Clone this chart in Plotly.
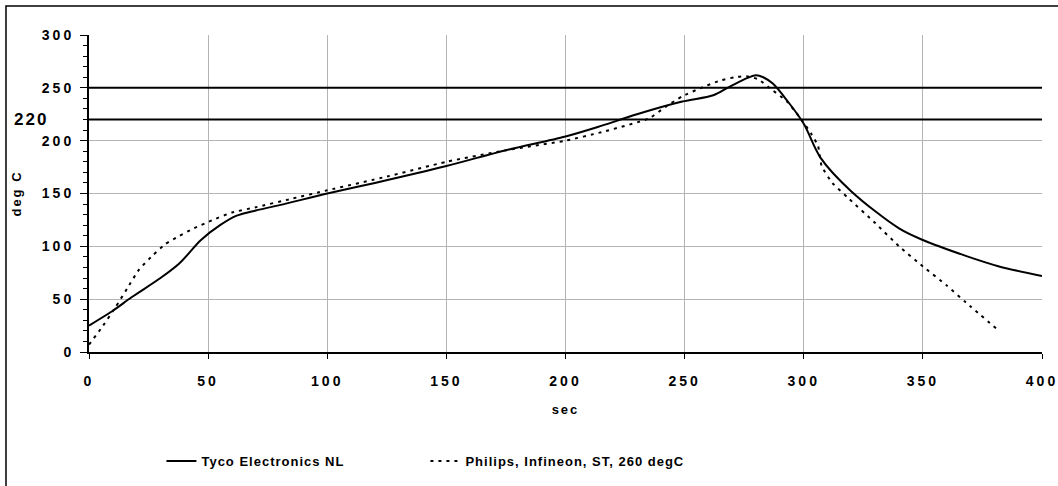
import plotly.graph_objects as go

# ---- data ----
tyco_x = [0, 10, 18, 30, 38, 47, 55, 62, 70, 80, 100, 120, 150, 175, 200, 215, 230, 249, 262, 268, 275, 280, 283, 287, 293, 300, 307, 320, 340, 350, 368, 382, 400]
tyco_y = [25, 39, 52, 70, 84, 106, 120, 129, 134, 139, 150, 160, 176, 191, 204, 214, 225, 237, 243, 250, 258, 262, 260, 254, 238, 216, 184, 152, 117, 106, 91, 81, 72]

phil_x = [0, 5, 11, 16, 21, 27, 32, 38, 44, 52, 60, 70, 85, 100, 125, 150, 175, 200, 215, 235, 242, 249, 257, 265, 271, 276, 281, 285, 293, 298, 303, 306, 307.5, 312, 319, 330, 340, 350, 360, 368, 382]
phil_y = [7, 22, 42, 60, 78, 92, 102, 110, 117, 125, 132, 137, 145, 153, 166, 180, 191, 200, 208, 221, 232, 242, 250, 257, 260, 261, 258, 251, 237, 223, 207, 195, 176, 160, 145, 122, 100, 81, 63, 47, 20]

ref_levels = [250, 220]
x_ticks = [0, 50, 100, 150, 200, 250, 300, 350, 400]
y_ticks = [0, 50, 100, 150, 200, 250, 300]

FONT = "Liberation Sans, Arial, sans-serif"

fig = go.Figure()
fig.add_trace(go.Scatter(x=tyco_x, y=tyco_y, mode="lines", name="Tyco Electronics NL",
                         line=dict(color="black", width=2, shape="spline", smoothing=0.9)))
fig.add_trace(go.Scatter(x=phil_x, y=phil_y, mode="lines", name="Philips, Infineon, ST, 260 degC",
                         line=dict(color="black", width=2, dash="3px,5px", shape="spline", smoothing=0.5)))

for lv in ref_levels:
    fig.add_shape(type="line", xref="paper", yref="y", x0=0, x1=1, y0=lv, y1=lv,
                  line=dict(color="black", width=2))

fig.add_annotation(xref="paper", yref="y", x=-0.044, y=220, text="<b>220</b>", showarrow=False,
                   xanchor="right", yanchor="middle", font=dict(family=FONT, size=17, color="black"))

# outer chart border
fig.add_shape(type="rect", xref="paper", yref="paper", x0=-0.0871, x1=1.05, y0=-0.45, y1=1.0913,
              line=dict(color="black", width=1.5))

fig.update_layout(
    width=1058, height=486, autosize=False,
    margin=dict(l=89, r=16, t=35, b=134, autoexpand=False),
    plot_bgcolor="white", paper_bgcolor="white",
    font=dict(family=FONT, color="black", size=14, weight="bold"),
    showlegend=True,
    legend=dict(orientation="h", x=0.076, y=-0.344, xanchor="left", yanchor="middle",
                font=dict(family=FONT, size=13, weight="bold"), entrywidth=219,
                bgcolor="rgba(0,0,0,0)"),
)
fig.update_xaxes(range=[0, 400], tickvals=x_ticks, showgrid=True, gridcolor="#b4b4b4", gridwidth=1,
                 showline=True, linecolor="black", linewidth=2, ticks="outside", ticklen=5,
                 tickcolor="black", zeroline=False, ticklabelstandoff=10,
                 title=dict(text="<b>sec</b>", font=dict(size=13), standoff=17),
                 tickfont=dict(size=14, weight="bold"))
fig.update_yaxes(range=[0, 300], tickvals=y_ticks, showgrid=True, gridcolor="#b4b4b4", gridwidth=1,
                 showline=True, linecolor="black", linewidth=2, ticks="outside", ticklen=7,
                 tickcolor="black", zeroline=False, ticklabelstandoff=3,
                 minor=dict(dtick=10, ticks="outside", ticklen=4, tickcolor="black", showgrid=False),
                 title=dict(text="<b>deg C</b>", font=dict(size=13), standoff=26),
                 tickfont=dict(size=14, weight="bold"))

post_js = """
var gd = document.getElementById('{plot_id}');
function sp(sel, v){ gd.querySelectorAll(sel).forEach(function(e){ e.style.letterSpacing = v; }); }
sp('.xtick text', '3px'); sp('.ytick text', '3px'); sp('.legendtext', '1px');
sp('.g-xtitle text', '2px'); sp('.g-ytitle text', '2px'); sp('.annotation-text', '2px');
"""

fig.write_html("out.html", post_script=post_js)
